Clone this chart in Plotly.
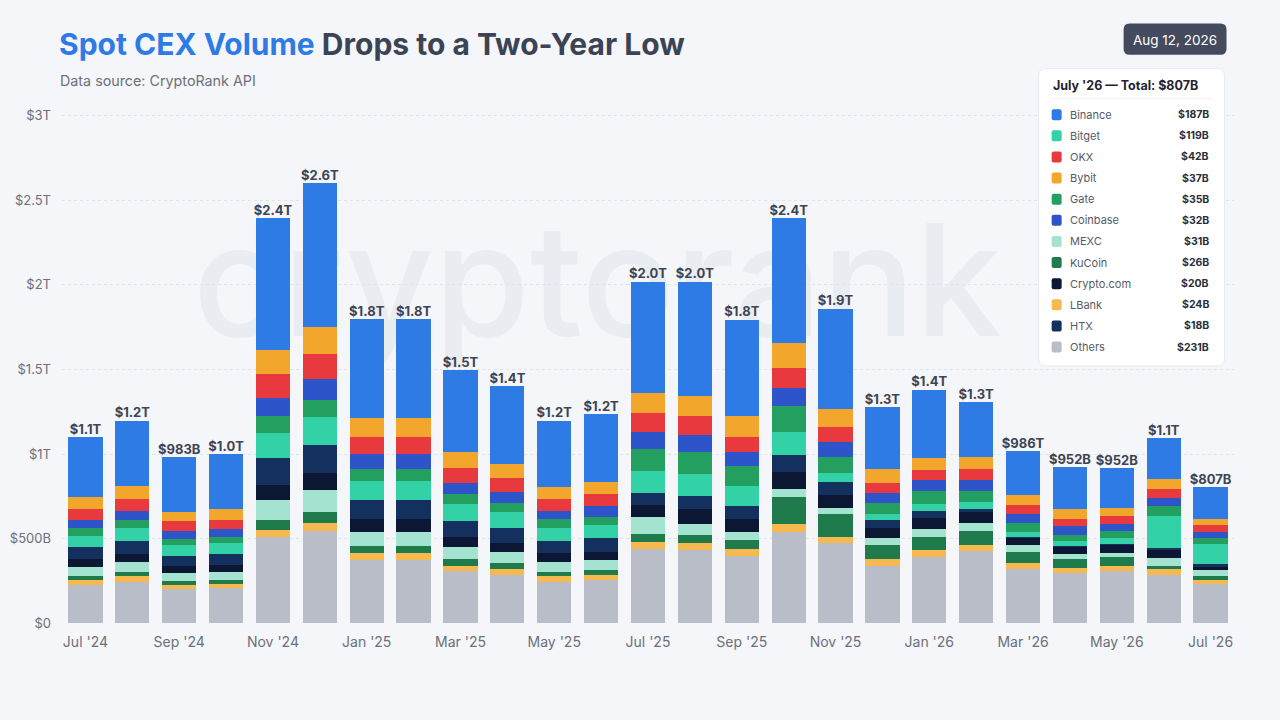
import plotly.graph_objects as go

# months on the x axis
months = ["Jul '24", "Aug '24", "Sep '24", "Oct '24", "Nov '24", "Dec '24",
          "Jan '25", "Feb '25", "Mar '25", "Apr '25", "May '25", "Jun '25",
          "Jul '25", "Aug '25", "Sep '25", "Oct '25", "Nov '25", "Dec '25",
          "Jan '26", "Feb '26", "Mar '26", "Apr '26", "May '26", "Jun '26", "Jul '26"]

# spot volume per exchange, billions USD
others = [223, 243, 201, 207, 507, 542, 373, 373, 310, 284, 245, 254, 436, 432, 396, 536, 471, 337, 392, 426, 323, 298, 310, 284, 231]
lbank = [34, 34, 26, 26, 45, 53, 39, 39, 30, 34, 34, 30, 45, 39, 45, 49, 39, 41, 43, 36, 30, 26, 30, 34, 24]
kucoin = [24, 26, 20, 20, 59, 61, 43, 43, 37, 36, 26, 30, 49, 49, 49, 162, 134, 87, 75, 85, 69, 55, 49, 22, 26]
mexc = [51, 59, 49, 49, 118, 132, 85, 85, 75, 65, 57, 59, 95, 65, 49, 49, 34, 36, 49, 47, 39, 28, 28, 43, 31]
cryptocom = [47, 49, 39, 43, 89, 99, 73, 73, 59, 57, 51, 49, 73, 89, 79, 99, 79, 63, 63, 65, 43, 45, 45, 53, 20]
htx = [69, 77, 63, 63, 158, 166, 114, 114, 95, 89, 73, 79, 73, 79, 73, 99, 75, 45, 39, 14, 6, 6, 6, 6, 18]
bitget = [69, 73, 65, 65, 148, 166, 114, 114, 97, 91, 75, 79, 128, 128, 118, 134, 53, 39, 45, 45, 30, 30, 37, 191, 119]
gate = [45, 51, 34, 39, 99, 103, 73, 73, 61, 57, 53, 49, 130, 132, 120, 158, 95, 65, 75, 65, 55, 36, 39, 59, 35]
coinbase = [49, 53, 45, 45, 108, 122, 85, 85, 67, 61, 51, 63, 103, 99, 83, 103, 93, 59, 63, 63, 53, 49, 45, 45, 32]
okx = [63, 69, 59, 53, 142, 148, 103, 103, 85, 83, 67, 69, 108, 114, 89, 122, 89, 57, 63, 65, 49, 45, 43, 55, 42]
bybit = [69, 75, 59, 63, 144, 158, 108, 108, 93, 85, 75, 75, 118, 116, 124, 148, 103, 85, 71, 69, 59, 59, 49, 63, 37]
binance = [355, 389, 320, 325, 779, 850, 586, 586, 489, 458, 391, 400, 661, 677, 570, 736, 594, 365, 402, 325, 262, 245, 237, 237, 187]

# labels printed above each bar
total_labels = ["$1.1T", "$1.2T", "$983B", "$1.0T", "$2.4T", "$2.6T", "$1.8T", "$1.8T", "$1.5T",
                "$1.4T", "$1.2T", "$1.2T", "$2.0T", "$2.0T", "$1.8T", "$2.4T", "$1.9T", "$1.3T",
                "$1.4T", "$1.3T", "$986T", "$952B", "$952B", "$1.1T", "$807B"]

x_ticks = months[::2]
y_ticks = [0, 500, 1000, 1500, 2000, 2500, 3000]
y_ticktext = ["$0", "$500B", "$1T", "$1.5T", "$2T", "$2.5T", "$3T"]

# bottom -> top stacking order
stack = [
    ("Others", others, "#b8bdc8"),
    ("LBank", lbank, "#f6b94f"),
    ("KuCoin", kucoin, "#1f7a4c"),
    ("MEXC", mexc, "#a3e3cf"),
    ("Crypto.com", cryptocom, "#0c1733"),
    ("HTX", htx, "#13305f"),
    ("Bitget", bitget, "#33d1a6"),
    ("Gate", gate, "#23a05f"),
    ("Coinbase", coinbase, "#2d55c9"),
    ("OKX", okx, "#e8393f"),
    ("Bybit", bybit, "#f2a62c"),
    ("Binance", binance, "#2f7be6"),
]
panel_order = ["Binance", "Bitget", "OKX", "Bybit", "Gate", "Coinbase", "MEXC",
               "KuCoin", "Crypto.com", "LBank", "HTX", "Others"]

BG = "#f4f6fa"
FONT = "Inter"

# plot area in pixels ($0 at 623, $3T at 116), a little padding so edge gridlines show
Y_LO, Y_HI = -5, 3010
UNIT = 507 / 3000
L, R = 61.5, 1234.5
B = 623 + (0 - Y_LO) * UNIT
T = 116 - (Y_HI - 3000) * UNIT


def px(x):
    return (x - L) / (R - L)


def py(y):
    return (B - y) / (B - T)


def rounded_rect(x0, y0, x1, y1, r):
    # path in paper coordinates from pixel box
    rx = r / (R - L)
    ry = r / (B - T)
    a, b, c, d = px(x0), px(x1), py(y1), py(y0)
    return (f"M{a + rx},{c} L{b - rx},{c} Q{b},{c} {b},{c + ry} L{b},{d - ry} Q{b},{d} {b - rx},{d} "
            f"L{a + rx},{d} Q{a},{d} {a},{d - ry} L{a},{c + ry} Q{a},{c} {a + rx},{c} Z")


fig = go.Figure()

for name, vals, color in stack:
    fig.add_trace(go.Bar(x=months, y=vals, name=name, marker_color=color,
                         marker_line_width=0, showlegend=False))

totals = [sum(v[i] for _, v, _ in stack) for i in range(len(months))]
fig.add_trace(go.Scatter(x=months, y=totals, mode="text",
                         text=["<b>" + t + "</b>" for t in total_labels],
                         textposition="top center",
                         textfont=dict(size=13, color="#3d4452", family=FONT),
                         cliponaxis=False, showlegend=False, hoverinfo="skip"))

shapes = []
annotations = []

# watermark behind the bars
shapes.append(dict(type="rect", xref="paper", yref="paper",
                   x0=px(180), x1=px(1015), y0=py(350), y1=py(200),
                   line_width=0, fillcolor="rgba(0,0,0,0)", layer="below",
                   label=dict(text="cryptorank", textposition="middle center",
                              font=dict(size=155, color="#e9ecf1", family=FONT, weight=500))))

# title + subtitle
annotations.append(dict(xref="paper", yref="paper", x=px(56), y=py(44), xanchor="left", yanchor="middle",
                        text="<b><span style='color:#2f7be6'>Spot CEX Volume</span> Drops to a Two-Year Low</b>",
                        font=dict(size=30, color="#3b4354", family=FONT), showarrow=False))
annotations.append(dict(xref="paper", yref="paper", x=px(57), y=py(81), xanchor="left", yanchor="middle",
                        text="Data source: CryptoRank API",
                        font=dict(size=14.3, color="#6b7079", family=FONT), showarrow=False))

# date badge
shapes.append(dict(type="path", xref="paper", yref="paper", path=rounded_rect(1124, 24, 1227, 55, 6),
                   fillcolor="#454b5e", line_width=0))
annotations.append(dict(xref="paper", yref="paper", x=px(1175.5), y=py(40), xanchor="center", yanchor="middle",
                        text="Aug 12, 2026", font=dict(size=13.5, color="white", family=FONT), showarrow=False))

# value panel for the last month
shapes.append(dict(type="path", xref="paper", yref="paper", path=rounded_rect(1039, 69, 1225, 366, 7),
                   fillcolor="white", line=dict(color="#e7eaf0", width=1)))
shapes.append(dict(type="line", xref="paper", yref="paper", x0=px(1050), x1=px(1214), y0=py(99), y1=py(99),
                   line=dict(color="#f0f2f5", width=1)))
annotations.append(dict(xref="paper", yref="paper", x=px(1051), y=py(86), xanchor="left", yanchor="middle",
                        text="<b>July '26 — Total: " + total_labels[-1] + "</b>",
                        font=dict(size=12.5, color="#1f2430", family=FONT), showarrow=False))

colors = {n: c for n, _, c in stack}
series = {n: v for n, v, _ in stack}
for k, name in enumerate(panel_order):
    yc = 115 + k * 21.1
    shapes.append(dict(type="path", xref="paper", yref="paper",
                       path=rounded_rect(1052, yc - 5.5, 1062, yc + 5.5, 2),
                       fillcolor=colors[name], line_width=0))
    annotations.append(dict(xref="paper", yref="paper", x=px(1068), y=py(yc), xanchor="left", yanchor="middle",
                            text=name, font=dict(size=11, color="#555b66", family=FONT), showarrow=False))
    annotations.append(dict(xref="paper", yref="paper", x=px(1211), y=py(yc), xanchor="right", yanchor="middle",
                            text="<b>$" + str(series[name][-1]) + "B</b>",
                            font=dict(size=10.5, color="#2a2f3a", family=FONT), showarrow=False))

fig.update_layout(
    width=1280, height=720,
    barmode="stack", bargap=0.27,
    paper_bgcolor=BG, plot_bgcolor=BG,
    margin=dict(l=L, r=1280 - R, t=T, b=720 - B, autoexpand=False),
    font=dict(family=FONT),
    shapes=shapes, annotations=annotations,
)
fig.update_xaxes(type="category", range=[-0.5, len(months) - 0.5],
                 tickmode="array", tickvals=x_ticks, ticktext=x_ticks,
                 showgrid=False, zeroline=False, showline=False, ticks="",
                 tickfont=dict(size=14, color="#6b7079"), ticklabelstandoff=8)
fig.update_yaxes(range=[Y_LO, Y_HI], tickvals=y_ticks, ticktext=y_ticktext,
                 showgrid=True, gridcolor="#dfe3ea", griddash="dot", gridwidth=1,
                 zeroline=False, showline=False, ticks="",
                 tickfont=dict(size=13, color="#6b7079"), ticklabelstandoff=10)

# drop the page's default body margin so the figure fills the window; no toolbar
fig.write_html("out.html", config={"displayModeBar": False},
               post_script="document.body.style.margin='0';")
